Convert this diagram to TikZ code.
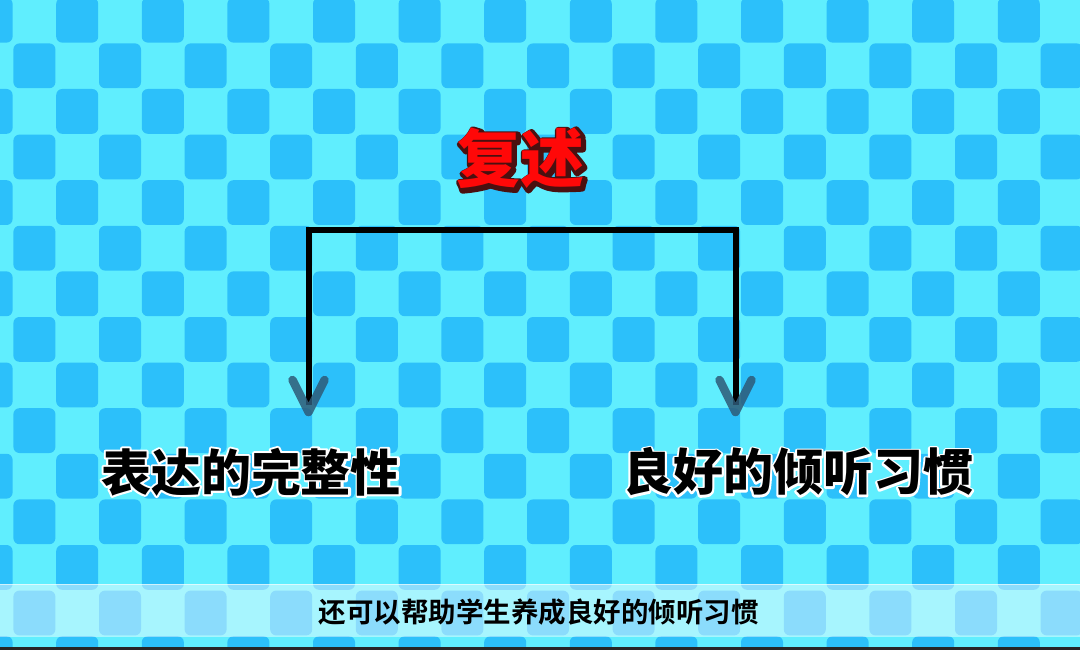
\documentclass[tikz,border=0pt]{standalone}
\usepackage{fontspec}
\newfontfamily\cjkb{Noto Sans CJK SC Bold}
\newfontfamily\cjkh{Noto Sans CJK SC Black}
\definecolor{lightc}{HTML}{60EEFE}
\definecolor{darkc}{HTML}{2CC0FA}
\definecolor{arrowc}{HTML}{2E5A78}
\definecolor{titlered}{HTML}{FF0808}
\definecolor{titleshadow}{HTML}{4A1010}
% stroked text (fill + stroke) with a given line width
\newcommand\strokedtext[2]{\special{pdf:literal direct 2 Tr #1 w 1 j}#2\special{pdf:literal direct 0 Tr}}
\tikzset{
  cell/.style={fill=darkc, rounded corners=6pt},
  titlefont/.style={font=\cjkh\fontsize{64}{70}\selectfont, inner sep=0pt},
  labelfont/.style={font=\cjkh\fontsize{50}{56}\selectfont, inner sep=0pt},
  subfont/.style={font=\cjkb\fontsize{27.5}{32}\selectfont, inner sep=0pt, text=black},
  branch/.style={draw=black, line width=6pt, line join=miter},
  chevron/.style={draw=arrowc, draw opacity=0.85, line width=8.5pt, line cap=round, line join=round},
}
\begin{document}
\begin{tikzpicture}[x=1pt,y=-1pt]
\useasboundingbox (0,0) rectangle (1080,650);
\fill[lightc] (0,0) rectangle (1080,650);
\begin{scope}
\clip (0,0) rectangle (1080,650);
\foreach \k in {0,...,14}{
  \pgfmathsetmacro\yt{-2.6+\k*45.6}
  \pgfmathtruncatemacro\r{mod(\k,2)}
  \foreach \m in {0,...,13}{
    \pgfmathsetmacro\xl{13+(2*\m-1+\r)*42.8}
    \path[cell] (\xl+0.4,\yt+0.4) rectangle ++(42,44.8);
  }
}
\end{scope}
% subtitle band
\fill[white, opacity=0.45] (0,584) rectangle (1080,637);
\draw[white, opacity=0.6, line width=1.5pt] (0,584.5) -- (1080,584.5);
\fill[black!85] (0,647) rectangle (1080,650);

% title: dark edge + shadow, red face
\node[titlefont, text=titleshadow] (tshadow) at (522,160) {\strokedtext{6.5}{复述}};
\node[titlefont, text=titlered] (title) at (520,158) {复述};

% labels with white halo
\node[labelfont, text=white] (lhalo) at (251,472) {\strokedtext{4}{表达的完整性}};
\node[labelfont, text=white] (rhalo) at (798,472) {\strokedtext{4}{良好的倾听习惯}};
\node[labelfont, text=black] (left) at (251,472) {表达的完整性};
\node[labelfont, text=black] (right) at (798,472) {良好的倾听习惯};

% connectors
\coordinate (la) at (308.5,405);
\coordinate (lc) at (308.5,230);
\coordinate (rc) at (735.5,230);
\coordinate (ra) at (735.5,405);
\draw[branch] (la) -- (lc) -- (rc) -- (ra);
\draw[chevron] ([shift={(-16,-25)}]la) -- ([shift={(0,7)}]la) -- ([shift={(16,-25)}]la);
\draw[chevron] ([shift={(-16,-25)}]ra) -- ([shift={(0,7)}]ra) -- ([shift={(16,-25)}]ra);

% subtitle
\node[subfont] (sub) at (538.5,612) {还可以帮助学生养成良好的倾听习惯};
\end{tikzpicture}
\end{document}
